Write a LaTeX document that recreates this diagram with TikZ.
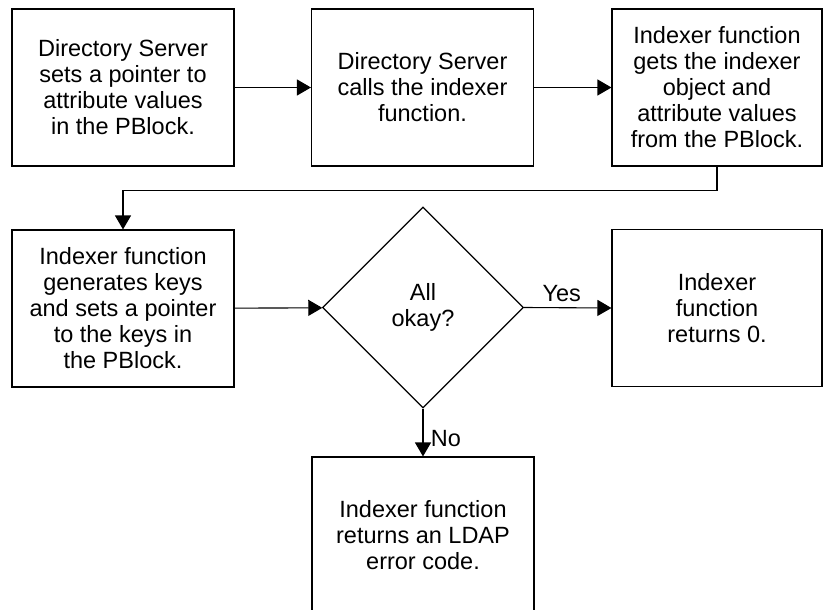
\documentclass[tikz,border=0pt]{standalone}
\usepackage{fontspec}
\setmainfont{Liberation Sans}
\usepackage{tikz}
\usetikzlibrary{shapes.geometric,arrows.meta}

\begin{document}
\begin{tikzpicture}[x=1pt,y=-1pt,
    box/.style={shape=rectangle,draw=black,line width=1.1pt,align=center,
        minimum width=222pt,minimum height=157pt,inner sep=0pt},
    flow/.style={draw=black,line width=1.1pt,-{Triangle[length=14pt,width=16pt]}},
    every node/.style={font=\fontsize{23.5}{26}\selectfont}]
    \useasboundingbox (0,0) rectangle (823,610);
    \node[box] (DS1) at (123,87.5) {Directory Server\\sets a pointer to\\attribute values\\in the PBlock.};
    \node[box] (DS2) at (422.5,87.5) {Directory Server\\calls the indexer\\function.};
    \node[box,minimum width=210pt] (IG) at (717,87.5) {Indexer function\\gets the indexer\\object and\\attribute values\\from the PBlock.};
    \node[box] (GK) at (123,308.5) {Indexer function\\generates keys\\and sets a pointer\\to the keys in\\the PBlock.};
    \node[shape=diamond,draw=black,line width=1.1pt,align=center,inner sep=0pt,
        minimum width=201pt,minimum height=201pt] (OK) at (423,307.5) {All\\okay?};
    \node[box,minimum width=210pt] (R0) at (717,308) {Indexer\\function\\returns 0.};
    \node[box] (ERR) at (423,535.5) {Indexer function\\returns an LDAP\\error code.};
    \path [flow] (DS1) -- (DS2);
    \path [flow] (DS2) -- (IG);
    \path [flow] (IG.south) -- ++(0,24) -| (GK.north);
    \path [flow] (GK) -- (OK);
    \path [flow] (OK.east) -- node[above,xshift=-6pt,yshift=2pt] {Yes} (R0.west);
    \path [flow] (OK.south) -- node[right,xshift=4pt,yshift=-6pt] {No} (ERR.north);
\end{tikzpicture}
\end{document}
